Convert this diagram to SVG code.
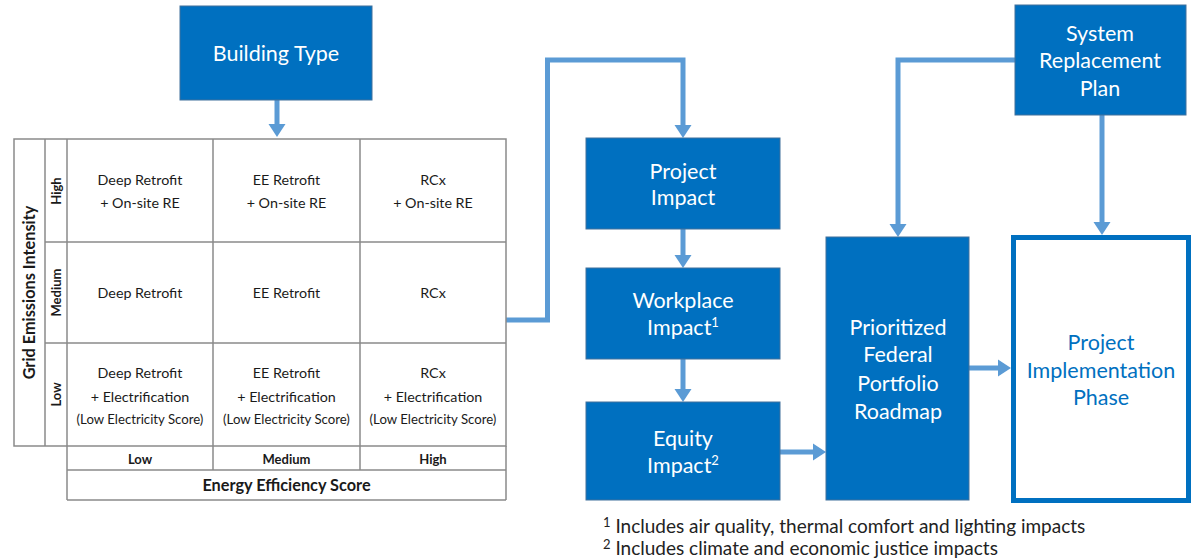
<svg xmlns="http://www.w3.org/2000/svg" width="1192" height="560" viewBox="0 0 1192 560">
<style>
.box{fill:#0070C0;stroke:#41719C;stroke-width:1}
.bt{fill:#fff;font-family:Lato,"Liberation Sans",sans-serif;font-size:21.5px;text-anchor:middle}
.grid{fill:none;stroke:#8a8a8a;stroke-width:1.5}
.cell{fill:#1a1a1a;font-family:Lato,"Liberation Sans",sans-serif;font-size:14.3px;text-anchor:middle}
.small{font-size:13.2px}
.hd{fill:#1a1a1a;font-family:Lato,"Liberation Sans",sans-serif;font-size:13px;font-weight:bold;text-anchor:middle}
.big{font-size:16.3px}
.conn{fill:none;stroke:#5B9BD5;stroke-width:5;marker-end:url(#ah)}
.fn{fill:#222;font-family:Lato,"Liberation Sans",sans-serif;font-size:19px}
</style>
<defs>
<marker id="ah" markerUnits="strokeWidth" markerWidth="3" markerHeight="3.6" refX="1.4" refY="1.7" orient="auto" overflow="visible">
<path d="M0,0 L2.6,1.7 L0,3.4 z" fill="#5B9BD5"/>
</marker>
</defs>

<g id="connectors">
<path class="conn" d="M277,100 V131"/>
<path class="conn" d="M506,320 H547.5 V60 H683 V132"/>
<path class="conn" d="M683,229 V262"/>
<path class="conn" d="M683,359 V396"/>
<path class="conn" d="M780,452 H820"/>
<path class="conn" d="M1015,60 H898 V231"/>
<path class="conn" d="M1102,115 V229"/>
<path class="conn" d="M969,368 H1005"/>
</g>

<g id="building-type">
<rect class="box" x="180" y="6" width="192" height="94"/>
<text class="bt" x="276" y="61">Building Type</text>
</g>

<g id="matrix">
<rect class="grid" x="14" y="139" width="492" height="307"/>
<line class="grid" x1="45" y1="139" x2="45" y2="446"/>
<line class="grid" x1="67" y1="139" x2="67" y2="500"/>
<line class="grid" x1="213" y1="139" x2="213" y2="470"/>
<line class="grid" x1="360" y1="139" x2="360" y2="470"/>
<line class="grid" x1="506" y1="446" x2="506" y2="500"/>
<line class="grid" x1="45" y1="242" x2="506" y2="242"/>
<line class="grid" x1="45" y1="343" x2="506" y2="343"/>
<line class="grid" x1="67" y1="470" x2="506" y2="470"/>
<line class="grid" x1="67" y1="500" x2="506" y2="500"/>

<text class="hd big" transform="translate(35,292.5) rotate(-90)">Grid Emissions Intensity</text>
<text class="hd" transform="translate(60.5,191) rotate(-90)">High</text>
<text class="hd" transform="translate(60.5,292.5) rotate(-90)">Medium</text>
<text class="hd" transform="translate(60.5,394.5) rotate(-90)">Low</text>

<text class="cell" x="140" y="185">Deep Retrofit</text>
<text class="cell" x="140" y="208">+ On-site RE</text>
<text class="cell" x="286.5" y="185">EE Retrofit</text>
<text class="cell" x="286.5" y="208">+ On-site RE</text>
<text class="cell" x="433" y="185">RCx</text>
<text class="cell" x="433" y="208">+ On-site RE</text>

<text class="cell" x="140" y="298">Deep Retrofit</text>
<text class="cell" x="286.5" y="298">EE Retrofit</text>
<text class="cell" x="433" y="298">RCx</text>

<text class="cell" x="140" y="378">Deep Retrofit</text>
<text class="cell" x="140" y="402">+ Electrification</text>
<text class="cell small" x="140" y="424">(Low Electricity Score)</text>
<text class="cell" x="286.5" y="378">EE Retrofit</text>
<text class="cell" x="286.5" y="402">+ Electrification</text>
<text class="cell small" x="286.5" y="424">(Low Electricity Score)</text>
<text class="cell" x="433" y="378">RCx</text>
<text class="cell" x="433" y="402">+ Electrification</text>
<text class="cell small" x="433" y="424">(Low Electricity Score)</text>

<text class="hd" x="140" y="463.5">Low</text>
<text class="hd" x="286.5" y="463.5">Medium</text>
<text class="hd" x="433" y="463.5">High</text>
<text class="hd big" x="286.5" y="491">Energy Efficiency Score</text>
</g>

<g id="project-impact">
<rect class="box" x="586" y="138" width="194" height="91"/>
<text class="bt" x="683" y="179">Project</text>
<text class="bt" x="683" y="205">Impact</text>
</g>

<g id="workplace-impact">
<rect class="box" x="586" y="268" width="194" height="91"/>
<text class="bt" x="683" y="308">Workplace</text>
<text class="bt" x="683" y="335">Impact<tspan font-size="13" dy="-8">1</tspan></text>
</g>

<g id="equity-impact">
<rect class="box" x="586" y="402" width="194" height="98"/>
<text class="bt" x="683" y="446">Equity</text>
<text class="bt" x="683" y="473">Impact<tspan font-size="13" dy="-8">2</tspan></text>
</g>

<g id="system-replacement-plan">
<rect class="box" x="1015" y="5" width="171" height="110"/>
<text class="bt" x="1100" y="41">System</text>
<text class="bt" x="1100" y="68">Replacement</text>
<text class="bt" x="1100" y="96">Plan</text>
</g>

<g id="prioritized-roadmap">
<rect class="box" x="826" y="237" width="143" height="263"/>
<text class="bt" x="898" y="335">Prioritized</text>
<text class="bt" x="898" y="362">Federal</text>
<text class="bt" x="898" y="391">Portfolio</text>
<text class="bt" x="898" y="419">Roadmap</text>
</g>

<g id="project-implementation">
<rect x="1013.5" y="237.5" width="175" height="263" fill="#fff" stroke="#0070C0" stroke-width="5"/>
<text class="bt" style="fill:#0070C0" x="1101" y="350">Project</text>
<text class="bt" style="fill:#0070C0" x="1101" y="378">Implementation</text>
<text class="bt" style="fill:#0070C0" x="1101" y="405">Phase</text>
</g>

<g id="footnotes">
<text class="fn" x="603" y="533"><tspan font-size="13" dy="-6">1</tspan><tspan dy="6"> Includes air quality, thermal comfort and lighting impacts</tspan></text>
<text class="fn" x="603" y="555"><tspan font-size="13" dy="-6">2</tspan><tspan dy="6"> Includes climate and economic justice impacts</tspan></text>
</g>
</svg>
